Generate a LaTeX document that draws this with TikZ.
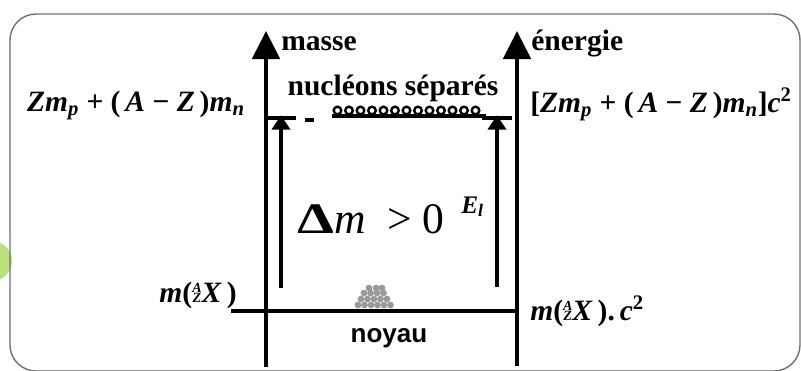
\documentclass[tikz,border=0pt]{standalone}
\usepackage{fontspec}
\usepackage{graphicx}
\setmainfont{Liberation Serif}
\newfontfamily\sanslbl{Liberation Sans}
\usetikzlibrary{arrows.meta,positioning}
\definecolor{FrameGray}{HTML}{707070}
\definecolor{NucGray}{HTML}{9A9A9A}
\definecolor{MarkGreen}{HTML}{B9E27A}

\newcommand{\stackAZ}{\raisebox{0.12em}{\fontsize{10}{10}\selectfont\begin{tabular}{@{}c@{}}\textit{A}\\[-3pt]\textit{Z}\end{tabular}}}
\newcommand{\Zmp}{\textit{Zm}\textsubscript{\textit{p}}}
\newcommand{\AZmn}{(\,\textit{A}\ −\ \textit{Z}\,)\textit{m}\textsubscript{\textit{n}}}
\newcommand{\massX}{\textit{m}(\stackAZ\textit{X}\,)}

\begin{document}
\begin{tikzpicture}[
    x=0.025cm, y=-0.025cm,
    font=\fontsize{21}{24}\selectfont\bfseries,
    lbl/.style={inner sep=0pt},
    axis/.style={line width=3.2pt, -{Triangle[length=0.7cm,width=0.68cm]}},
    lift/.style={line width=2.6pt, -{Triangle[length=0.36cm,width=0.45cm]}},
    level/.style={line width=2.2pt},
    nucleon/.style={circle, draw, line width=1.7pt, inner sep=0pt, minimum size=0.19cm}
]
\useasboundingbox (0,0) rectangle (801,370);
\fill[MarkGreen] (-8,261) circle (0.5cm);
\draw[FrameGray, line width=1pt, rounded corners=0.65cm] (10,14) rectangle (800,371);

% axes
\coordinate (massBot) at (266,367);
\coordinate (massTop) at (266,31);
\coordinate (enerBot) at (517,366);
\coordinate (enerTop) at (517,31);
\draw[axis] (massBot) -- (massTop);
\draw[axis] (enerBot) -- (enerTop);
\node[lbl, anchor=base west] (masse) at (281,50) {masse};
\node[lbl, anchor=base west] (energie) at (531,50) {énergie};

% niveau du noyau
\coordinate (noyL) at (231,311);
\coordinate (noyR) at (enerBot |- noyL);
\draw[level] (noyL) -- (noyR);
\foreach \px/\py in {358/305,364.5/305,371/305,377.5/305,384/305,390.5/305,
                     361/299,367.5/299,374/299,380.5/299,387/299,
                     364/293,370.5/293,377/293,383.5/293,369/288,376/288,382/288}
  \fill[NucGray] (\px,\py) circle (0.085cm);
\node[lbl, anchor=base, font=\fontsize{18.5}{22}\selectfont\sanslbl\bfseries] (noyau) at (389,342) {noyau};
\node[lbl, anchor=base east] (mX) at (237,302) {\massX};
\node[lbl, anchor=base west] (mXc) at (530,320) {\massX.\,\textit{c}\textsuperscript{2}};

% niveau des nucleons separes
\coordinate (barL) at (281,118);
\coordinate (barR) at (497,118);
\draw[level] ([xshift=-11]barL) -- ([xshift=11]barL);
\draw[level] ([xshift=-11]barR) -- ([xshift=11]barR);
\draw[level] (305,120) -- (314,120);
\draw[level] (332,116) -- (486,116);
\foreach \i in {0,...,12}
  \node[nucleon] (n\i) at (337.5+11.5*\i,110.5) {};
\node[lbl, anchor=base] (sep) at (393,95) {nucléons séparés};
\node[lbl, anchor=base east] (massSep) at (245,111) {\Zmp\ +\ \AZmn};
\node[lbl, anchor=base west] (enerSep) at (530,112) {[\Zmp\ +\ \AZmn]\textit{c}\textsuperscript{2}};

% ecarts
\coordinate (dmBot) at (281,288);
\coordinate (elBot) at (497,287);
\draw[lift] (dmBot) -- ([yshift=2]barL);
\draw[lift] (elBot) -- ([yshift=2]barR);
\node[lbl, anchor=base west, font=\fontsize{31}{34}\selectfont] (dm) at (297,233) {\textbf{\scalebox{1.35}[1]{Δ}}\textit{m}\ \ >\ 0};
\node[lbl, anchor=base west, font=\fontsize{18}{20}\selectfont\bfseries] (el) at (461,213) {\textit{E}\textsubscript{\textit{l}}};
\end{tikzpicture}
\end{document}
